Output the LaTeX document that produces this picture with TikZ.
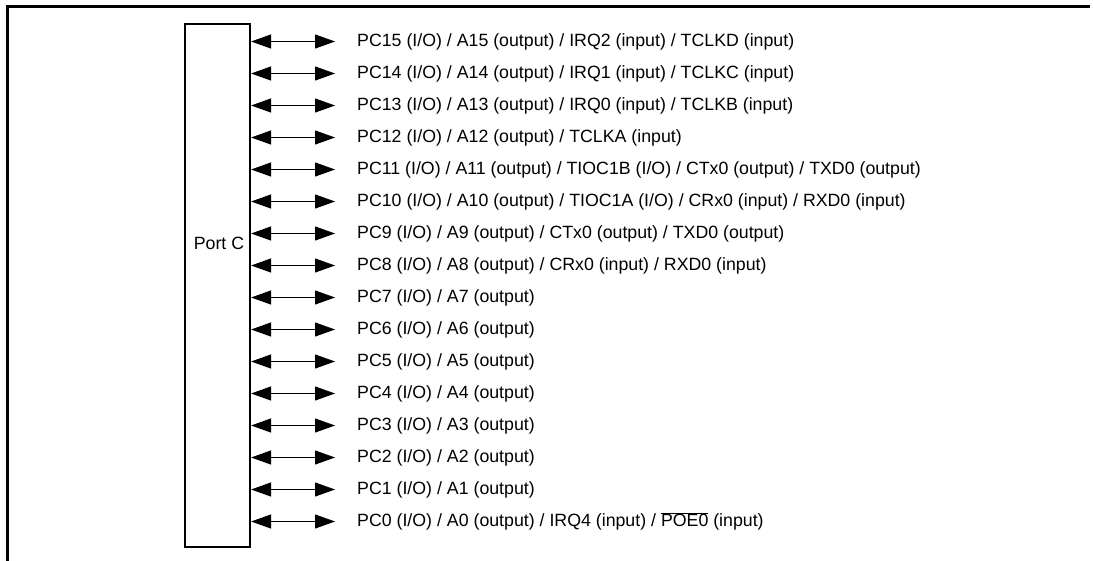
\documentclass[tikz,border=0pt]{standalone}
\usepackage{fontspec}
\setmainfont{Liberation Sans}
\usetikzlibrary{arrows.meta}
\begin{document}
\begin{tikzpicture}[x=1pt,y=-1pt,
  frameline/.style={line width=3pt},
  portbox/.style={draw,line width=2.2pt,minimum width=65pt,minimum height=523pt,inner sep=0pt},
  pinlbl/.style={anchor=west,inner xsep=22pt,inner ysep=0pt,font=\fontsize{17.75}{20}\selectfont},
  bidir/.style={line width=1.1pt,{Triangle[length=20pt,width=14pt]}-{Triangle[length=20pt,width=14pt]}}
]
\useasboundingbox (0,0) rectangle (1093,561);
\draw[frameline] (1090,7) -- (7,7) -- (7,562);
\node[portbox] (port) at (217.5,285.5) {};
\node[font=\fontsize{17.75}{20}\selectfont,inner sep=0pt] (portlbl) at (219,243) {Port C};
\foreach \i/\t in {
  0/{PC15 (I/O) / A15 (output) / IRQ2 (input) / TCLKD (input)},
  1/{PC14 (I/O) / A14 (output) / IRQ1 (input) / TCLKC (input)},
  2/{PC13 (I/O) / A13 (output) / IRQ0 (input) / TCLKB (input)},
  3/{PC12 (I/O) / A12 (output) / TCLKA (input)},
  4/{PC11 (I/O) / A11 (output) / TIOC1B (I/O) / CTx0 (output) / TXD0 (output)},
  5/{PC10 (I/O) / A10 (output) / TIOC1A (I/O) / CRx0 (input) / RXD0 (input)},
  6/{PC9 (I/O) / A9 (output) / CTx0 (output) / TXD0 (output)},
  7/{PC8 (I/O) / A8 (output) / CRx0 (input) / RXD0 (input)},
  8/{PC7 (I/O) / A7 (output)},
  9/{PC6 (I/O) / A6 (output)},
  10/{PC5 (I/O) / A5 (output)},
  11/{PC4 (I/O) / A4 (output)},
  12/{PC3 (I/O) / A3 (output)},
  13/{PC2 (I/O) / A2 (output)},
  14/{PC1 (I/O) / A1 (output)},
  15/{PC0 (I/O) / A0 (output) / IRQ4 (input) / $\overline{\mbox{POE0}}$ (input)}} {
  \node[pinlbl] (pin\i) at (335,{41.5+32*\i}) {\t};
  \draw[bidir] (port.east |- pin\i.west) -- (pin\i.west);
}
\end{tikzpicture}
\end{document}
